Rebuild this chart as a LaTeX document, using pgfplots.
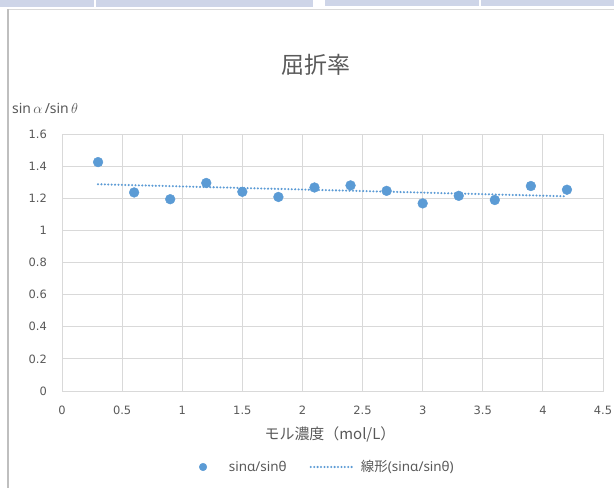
\documentclass[border=0pt]{standalone}
\usepackage{fontspec}
\setmainfont{Noto Sans}
\newfontfamily\jp{Noto Sans CJK JP}
\newfontfamily\tickfont{DejaVu Sans}
\usepackage{pgfplots}
\pgfplotsset{compat=1.18}
\definecolor{exblue}{HTML}{5B9BD5}
\definecolor{txtgray}{HTML}{595959}
\definecolor{gridgray}{HTML}{D9D9D9}
\definecolor{barblue}{RGB}{206,213,232}
\pgfplotsset{
  scatterleg/.style={legend image code/.code={\draw[mark repeat=2,mark phase=2,##1,mark size=3.8bp] plot coordinates {(0bp,0bp) (5bp,0bp) (10bp,0bp)};}},
  lineleg/.style={legend image code/.code={\draw[##1] (0bp,0bp) -- (42bp,0bp);}},
}
\begin{document}
\begin{tikzpicture}[x=1bp,y=1bp]
\useasboundingbox (0,0) rectangle (614,488);
\fill[white] (0,0) rectangle (614,488);
\fill[barblue] (0,480.7) rectangle (313,488);
\fill[barblue] (325,481.5) rectangle (614,488);
\draw[white, line width=1.2bp] (95,480.7) -- (95,488);
\draw[white, line width=1.2bp] (480,481.5) -- (480,488);
\draw[gridgray, line width=1.2bp] (8,478.8) -- (614,478.8);
\draw[black!25, line width=1.6bp] (7.8,0) -- (7.8,479.4);
\begin{axis}[
  at={(62bp,97bp)}, anchor=south west,
  scale only axis, width=541bp, height=257bp,
  xmin=0, xmax=4.5, ymin=0, ymax=1.6,
  xtick={0,0.5,1,1.5,2,2.5,3,3.5,4,4.5},
  ytick={0,0.2,0.4,0.6,0.8,1,1.2,1.4,1.6},
  grid=major, major grid style={gridgray, line width=0.9bp},
  axis line style={gridgray, line width=0.9bp},
  major tick length=0pt,
  /pgf/number format/assume math mode=true,
  tick label style={font=\tickfont\fontsize{11.5}{13}\selectfont, text=txtgray},
  yticklabel style={anchor=east, inner sep=0pt, xshift=-15bp},
  xticklabel style={anchor=center, inner sep=0pt, yshift=-19bp},
  title={屈折率},
  every axis title/.style={at={(axis description cs:0.4695,1.2685)}, anchor=center, inner sep=0pt, font=\jp\fontsize{23}{25}\selectfont, text=txtgray},
  xlabel={モル濃度（mol/L）},
  every axis x label/.style={at={(axis description cs:0.4954,-0.1673)}, anchor=center, inner sep=0pt, font=\jp\fontsize{15}{17}\selectfont, text=txtgray},
  ylabel={sin\,$\alpha$\,/sin\,$\theta$},
  every axis y label/.style={at={(axis description cs:-0.0924,1.1012)}, anchor=west, inner sep=0pt, font=\fontsize{14}{16}\selectfont, text=txtgray},
  legend columns=2,
  legend style={at={(axis description cs:0.4889,-0.2957)}, anchor=center, draw=none, fill=none,
    font=\fontsize{13.5}{15}\selectfont, text=txtgray,
    nodes={inner sep=0pt, text depth=0.15em},
    /tikz/column 1/.style={column sep=22bp},
    /tikz/column 2/.style={column sep=23bp},
    /tikz/column 3/.style={column sep=7bp}},
  legend cell align=left,
]
\addplot[only marks, mark=*, mark size=4.9bp, color=exblue, mark options={draw=exblue, fill=exblue}, scatterleg]
  coordinates {
  (0.3,1.425) (0.6,1.236) (0.9,1.194) (1.2,1.295) (1.5,1.240) (1.8,1.208) (2.1,1.267)
  (2.4,1.280) (2.7,1.246) (3.0,1.168) (3.3,1.215) (3.6,1.189) (3.9,1.276) (4.2,1.253)
  };
\addlegendentry{sinα/sinθ}
\addplot[exblue, line width=2.3bp, line cap=round, dash pattern=on 0pt off 3.4bp, lineleg]
  coordinates {(0.3,1.287) (4.2,1.212)};
\addlegendentry{{\jp 線形}(sinα/sinθ)}
\end{axis}
\end{tikzpicture}
\end{document}
